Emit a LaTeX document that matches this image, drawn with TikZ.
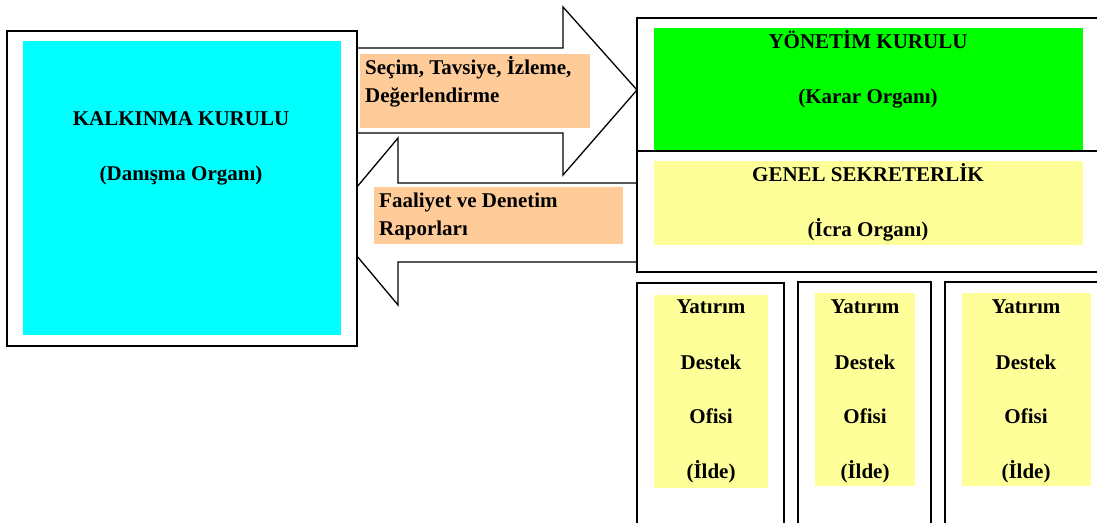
\documentclass[tikz,border=0pt]{standalone}
\usepackage{fontspec}
\setmainfont{Liberation Serif}
\definecolor{cyanfill}{HTML}{00FFFF}
\definecolor{greenfill}{HTML}{00FF00}
\definecolor{yellowfill}{HTML}{FFFF99}
\definecolor{tanfill}{HTML}{FFCC99}
\begin{document}
\begin{tikzpicture}[x=1pt,y=-1pt,
  frame/.style={draw=black, line width=1.3pt, fill=white, inner sep=0pt, outer sep=0pt, anchor=north west},
  panel/.style={inner sep=0pt, outer sep=0pt, anchor=north west},
  bigarrow/.style={draw=black, line width=1.3pt, fill=white, line join=miter},
  lbl/.style={font=\fontsize{21}{28}\selectfont\bfseries, inner sep=0pt, anchor=base},
  lbll/.style={lbl, anchor=base west}]
\useasboundingbox (0,0) rectangle (1097,522);
\clip (0,0) rectangle (1097,522);

% big arrows
\draw[bigarrow] (340,48) -- (563,48) -- (563,7) -- (637,90) -- (563,175) -- (563,133) -- (340,133) -- cycle;
\draw[bigarrow] (328,221.5) -- (398,138) -- (398,183) -- (700,183) -- (700,262) -- (398,262) -- (398,305) -- cycle;

% left box
\node[frame, minimum width=350, minimum height=315] (kout) at (7,31) {};
\node[panel, fill=cyanfill, minimum width=318, minimum height=294] (kin) at (23,41) {};

% right top boxes
\node[frame, minimum width=480, minimum height=133] (yout) at (637,18) {};
\node[panel, fill=greenfill, minimum width=429, minimum height=122] (yin) at (654,28) {};
\node[frame, minimum width=480, minimum height=121] (gout) at (637,151) {};
\node[panel, fill=yellowfill, minimum width=429, minimum height=84] (gin) at (654,161) {};

% bottom boxes
\node[frame, minimum width=147, minimum height=260] (b1out) at (637,283) {};
\node[panel, fill=yellowfill, minimum width=114, minimum height=193] (b1in) at (654,295) {};
\node[frame, minimum width=133, minimum height=260] (b2out) at (798,282) {};
\node[panel, fill=yellowfill, minimum width=100, minimum height=193] (b2in) at (815,293) {};
\node[frame, minimum width=170, minimum height=260] (b3out) at (945,282) {};
\node[panel, fill=yellowfill, minimum width=129, minimum height=193] (b3in) at (962,293) {};

% arrow labels
\node[panel, fill=tanfill, minimum width=230, minimum height=74] (t1) at (360,54) {};
\node[panel, fill=tanfill, minimum width=249, minimum height=57] (t2) at (374,187) {};

% texts
\node[lbl] (k1) at (181,125) {KALKINMA KURULU};
\node[lbl] (k2) at (181,180) {(Danışma Organı)};
\node[lbl] (y1) at (868,48) {YÖNETİM KURULU};
\node[lbl] (y2) at (868,103) {(Karar Organı)};
\node[lbl] (g1) at (868,181) {GENEL SEKRETERLİK};
\node[lbl] (g2) at (868,236) {(İcra Organı)};
\node[lbll] (s1) at (365,74) {Seçim, Tavsiye, İzleme,};
\node[lbll] (s2) at (365,102) {Değerlendirme};
\node[lbll] (f1) at (379,207) {Faaliyet ve Denetim};
\node[lbll] (f2) at (379,235) {Raporları};
\foreach \n/\cx in {1/711,2/865,3/1026}{
  \node[lbl] (d\n a) at (\cx,313) {Yatırım};
  \node[lbl] (d\n b) at (\cx,369) {Destek};
  \node[lbl] (d\n c) at (\cx,423) {Ofisi};
  \node[lbl] (d\n d) at (\cx,478) {(İlde)};
}
\end{tikzpicture}
\end{document}
